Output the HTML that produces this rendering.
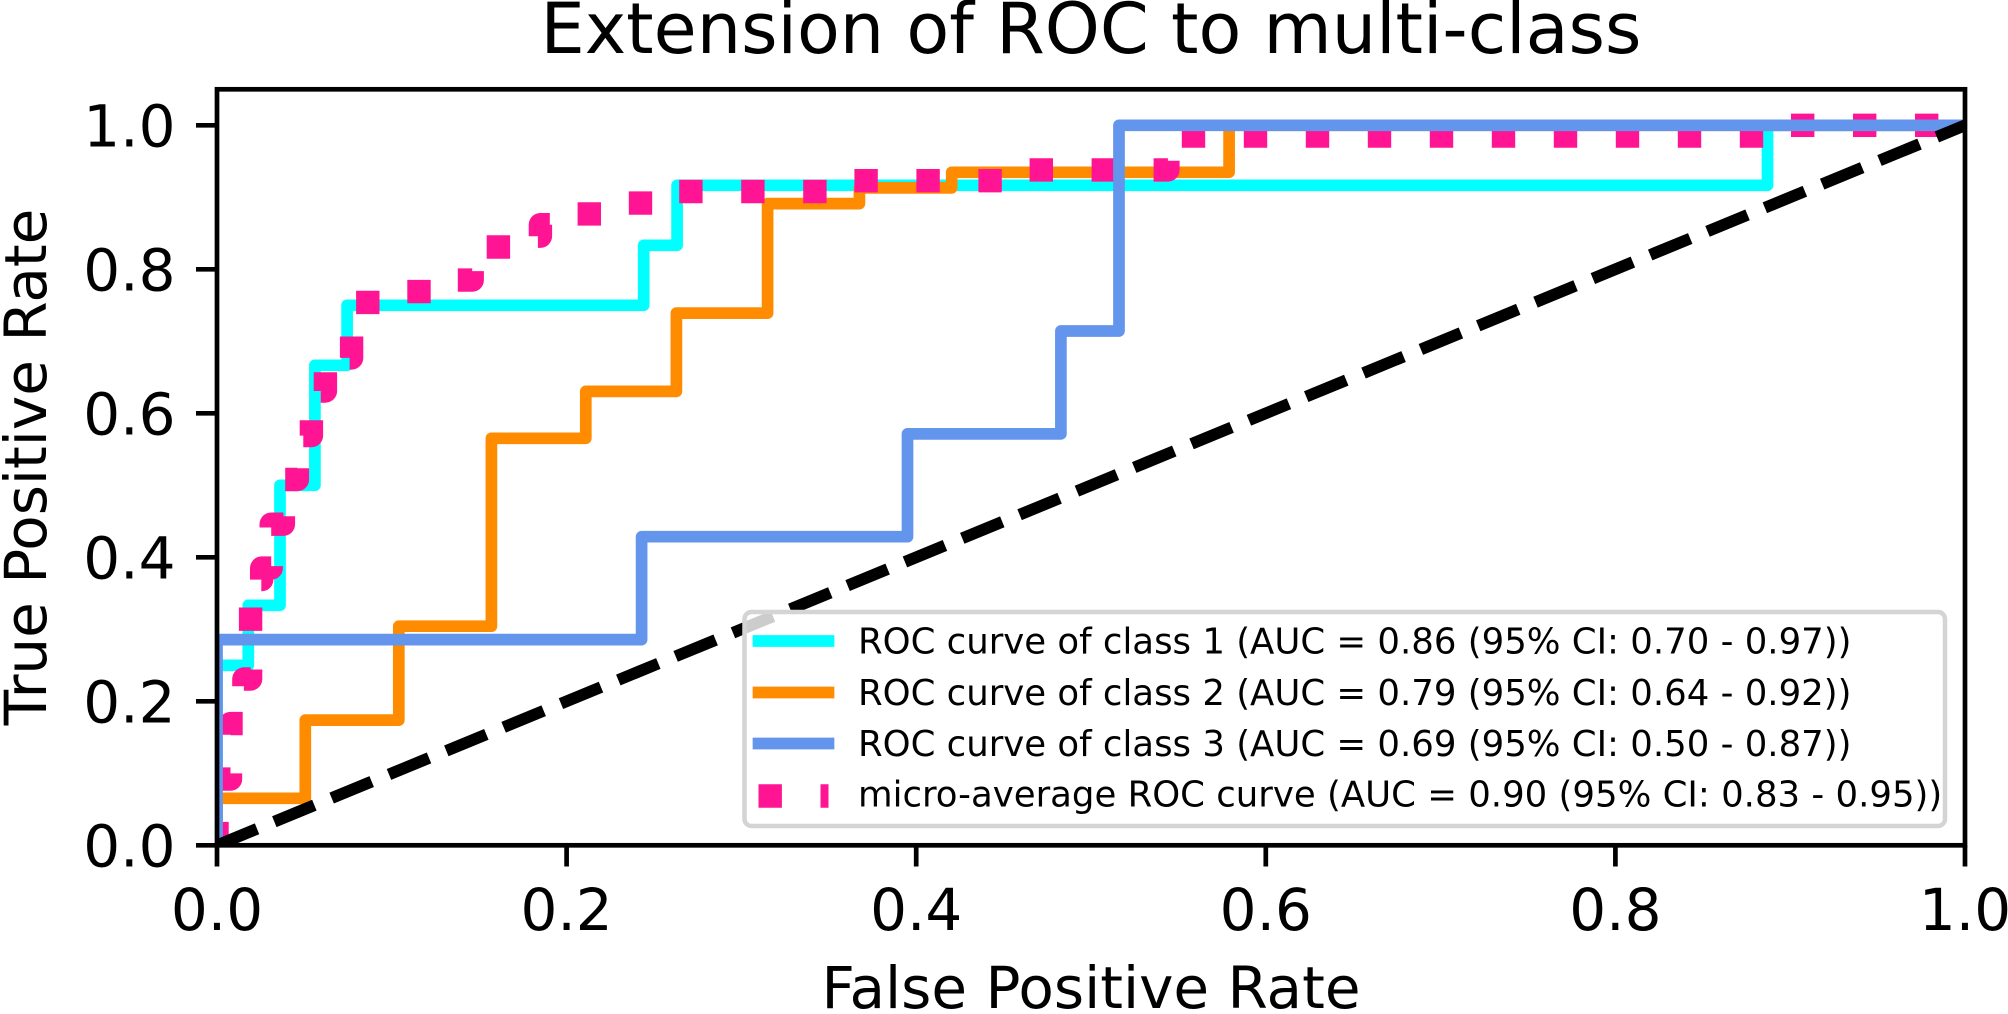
<!DOCTYPE html>
<html>
<head>
<meta charset="utf-8">
<style>
  html, body { margin: 0; padding: 0; background: #ffffff; }
  svg { display: block; }
  text { font-family: "DejaVu Sans", "Liberation Sans", sans-serif; fill: #000; }
</style>
</head>
<body>
<svg width="2008" height="1014" viewBox="0 0 2008 1014" xmlns="http://www.w3.org/2000/svg">
  <defs>
    <clipPath id="ax">
      <rect x="217" y="89.3" width="1748" height="756"/>
    </clipPath>
  </defs>
  <rect x="0" y="0" width="2008" height="1014" fill="#ffffff"/>

  <!-- Title -->
  <text x="1091" y="53" font-size="70" text-anchor="middle">Extension of ROC to multi-class</text>

  <g clip-path="url(#ax)" fill="none" stroke-linejoin="round">
    <!-- class 1 (aqua) -->
    <path d="M217,845.3 V665.3 H248.3 V605.3 H280 V485.3 H314.9 V365.3 H347.1 V305.3 H643.7 V245.3 H677.1 V185.3 H1767.5 V125.3 H1965" stroke="#00ffff" stroke-width="11.7" stroke-linecap="square"/>
    <!-- class 2 (darkorange) -->
    <path d="M217,845.3 V798.3 H305.3 V720.1 H398.8 V626.2 H491.4 V438.3 H585.8 V391.4 H676.4 V313.1 H767.6 V203.6 H859.4 V187.9 H951.7 V172.3 H1229.1 V125.3 H1965" stroke="#ff8c00" stroke-width="11.7" stroke-linecap="square"/>
    <!-- micro-average (deeppink, dotted) -->
    <path d="M217,845.3 V779.1 H230.5 V723.6 H243.9 V679 H250.6 V579.6 H261.7 V568.1 H271.2 V524.2 H283.4 V479.5 H297.4 V435.6 H311.4 V391 H325.4 V357.9 H351.6 V302.4 H391.8 V291.6 H446 V280.1 H472.2 V269.3 H486.2 V247 H512.4 V236.2 H540.4 V224.7 H566.6 V213.9 H620.8 V203.1 H675 V191.5 H837.5 V180.7 H1012.3 V169.9 H1167.9 V136.1 H1764 V125.3 H1965" stroke="#ff1493" stroke-width="23.4" stroke-dasharray="23.4 38.6" stroke-linecap="butt"/>
    <!-- class 3 (cornflowerblue) -->
    <path d="M217,845.3 V639.6 H641.6 V536.7 H907.5 V433.9 H1060.9 V331 H1119 V125.3 H1965" stroke="#6495ed" stroke-width="11.7" stroke-linecap="square"/>
    <!-- diagonal -->
    <path d="M217,845.3 L1965,125.3" stroke="#000000" stroke-width="11.7" stroke-dasharray="43.3 18.7" stroke-linecap="butt"/>
  </g>

  <!-- spines -->
  <rect x="217" y="89.3" width="1748" height="756" fill="none" stroke="#000" stroke-width="4.7"/>

  <!-- x ticks -->
  <g stroke="#000" stroke-width="4.7">
    <line x1="217" y1="845.3" x2="217" y2="866.5"/>
    <line x1="566.6" y1="845.3" x2="566.6" y2="866.5"/>
    <line x1="916.2" y1="845.3" x2="916.2" y2="866.5"/>
    <line x1="1265.8" y1="845.3" x2="1265.8" y2="866.5"/>
    <line x1="1615.4" y1="845.3" x2="1615.4" y2="866.5"/>
    <line x1="1965" y1="845.3" x2="1965" y2="866.5"/>
  </g>
  <!-- y ticks -->
  <g stroke="#000" stroke-width="4.7">
    <line x1="196" y1="845.3" x2="217" y2="845.3"/>
    <line x1="196" y1="701.3" x2="217" y2="701.3"/>
    <line x1="196" y1="557.3" x2="217" y2="557.3"/>
    <line x1="196" y1="413.3" x2="217" y2="413.3"/>
    <line x1="196" y1="269.3" x2="217" y2="269.3"/>
    <line x1="196" y1="125.3" x2="217" y2="125.3"/>
  </g>

  <!-- x tick labels -->
  <g font-size="58" text-anchor="middle">
    <text x="217" y="930">0.0</text>
    <text x="566.6" y="930">0.2</text>
    <text x="916.2" y="930">0.4</text>
    <text x="1265.8" y="930">0.6</text>
    <text x="1615.4" y="930">0.8</text>
    <text x="1965" y="930">1.0</text>
  </g>
  <!-- y tick labels -->
  <g font-size="58" text-anchor="end">
    <text x="175.5" y="866.5">0.0</text>
    <text x="175.5" y="722.5">0.2</text>
    <text x="175.5" y="578.5">0.4</text>
    <text x="175.5" y="434.5">0.6</text>
    <text x="175.5" y="290.5">0.8</text>
    <text x="175.5" y="146.5">1.0</text>
  </g>

  <!-- axis labels -->
  <text x="1091" y="1008" font-size="58" text-anchor="middle">False Positive Rate</text>
  <text transform="translate(46,467) rotate(-90)" font-size="58" text-anchor="middle">True Positive Rate</text>

  <!-- legend -->
  <rect x="744.5" y="612" width="1200.5" height="214" rx="7" ry="7" fill="#ffffff" fill-opacity="0.8" stroke="#d4d4d4" stroke-width="4.5"/>
  <line x1="758.5" y1="641" x2="828.5" y2="641" stroke="#00ffff" stroke-width="11.7" stroke-linecap="square"/>
  <line x1="758.5" y1="692.5" x2="828.5" y2="692.5" stroke="#ff8c00" stroke-width="11.7" stroke-linecap="square"/>
  <line x1="758.5" y1="743.5" x2="828.5" y2="743.5" stroke="#6495ed" stroke-width="11.7" stroke-linecap="square"/>
  <line x1="758.5" y1="796" x2="828.5" y2="796" stroke="#ff1493" stroke-width="23.4" stroke-dasharray="23.4 38.6" stroke-linecap="butt"/>
  <g font-size="35.5">
    <text x="858" y="653.3">ROC curve of class 1 (AUC = 0.86 (95% CI: 0.70 - 0.97))</text>
    <text x="858" y="705">ROC curve of class 2 (AUC = 0.79 (95% CI: 0.64 - 0.92))</text>
    <text x="858" y="756">ROC curve of class 3 (AUC = 0.69 (95% CI: 0.50 - 0.87))</text>
    <text x="858" y="806.7">micro-average ROC curve (AUC = 0.90 (95% CI: 0.83 - 0.95))</text>
  </g>
</svg>
</body>
</html>
